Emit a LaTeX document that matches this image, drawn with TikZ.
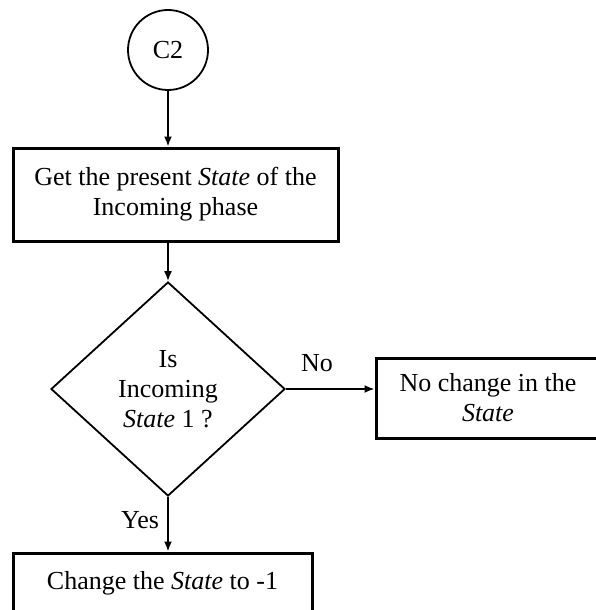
\documentclass[tikz,border=0pt]{standalone}
\usepackage{fontspec}
\setmainfont{Liberation Serif}
\usepackage{tikz}
\usetikzlibrary{arrows.meta, shapes.geometric, positioning, calc}
\tikzset{
	connector/.style={circle, draw, line width=1.8pt, minimum size=80pt, inner sep=0pt},
	process/.style={rectangle, draw, line width=3pt, align=center, inner sep=0pt},
	decision/.style={diamond, draw, line width=1.8pt, align=center, inner sep=0pt,
		minimum width=234pt, minimum height=214pt},
	answer/.style={inner sep=0pt},
	line/.style={draw, line width=1.8pt, -{Latex[length=10pt,width=8pt]}}
}

\begin{document}
\begin{tikzpicture}[x=1pt, y=-1pt, font=\fontsize{26pt}{30pt}\selectfont]
	\useasboundingbox (0,0) rectangle (596,610);
	\clip (0,0) rectangle (596,610);
	
	% Start connector
	\node[connector] (C2) at (168,50) {C2};
	
	% Steps
	\node[process, minimum width=325pt, minimum height=93pt] (get) at (175.5,194.5)
		{Get the present \textit{State} of the\\Incoming phase};
	\node[decision] (isone) at (168,389) {Is\\Incoming\\\textit{State} 1 ?};
	\node[process, minimum width=224pt, minimum height=80pt] (keep) at (488,398)
		{No change in the\\\textit{State}};
	\node[process, minimum width=299pt, minimum height=61pt] (change) at (162.5,583.5)
		{Change the \textit{State} to -1};
	
	% Branch labels
	\node[answer] (nolbl) at (317,363) {No};
	\node[answer] (yeslbl) at (140,520) {Yes};
	
	% Connections
	\draw[line] (C2) -- (C2 |- get.north);
	\draw[line] (get.south -| isone) -- (isone.north);
	\draw[line] (isone.east) -- (isone.east -| keep.west);
	\draw[line] (isone.south) -- (isone.south |- change.north);
\end{tikzpicture}
\end{document}
